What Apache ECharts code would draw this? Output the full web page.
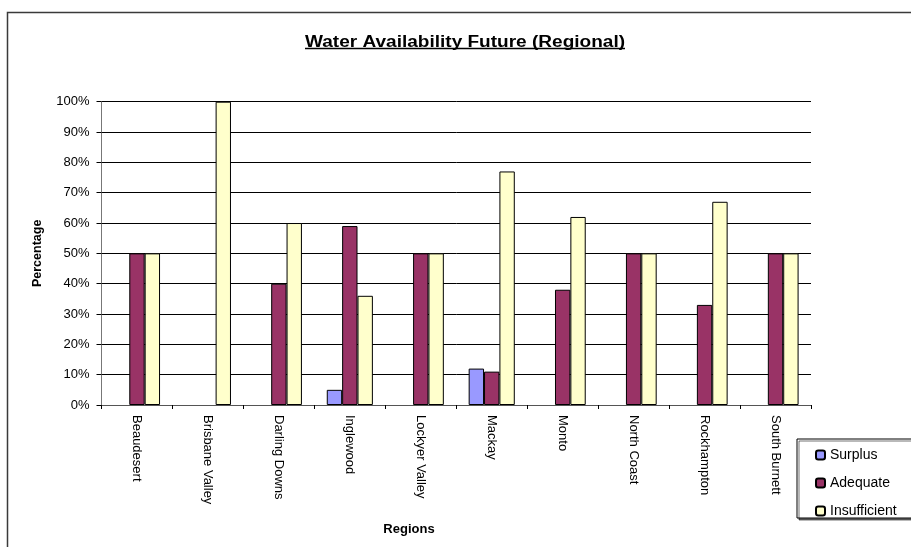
<!DOCTYPE html>
<html>
<head>
<meta charset="utf-8">
<script src="https://cdn.jsdelivr.net/npm/echarts@6/dist/echarts.min.js"></script>
<style>
  html, body { margin: 0; padding: 0; background: #fff; }
  #chart { width: 911px; height: 547px; }
</style>
</head>
<body>
<div id="chart"></div>
<script>
// Regions surveyed
const regions = ['Beaudesert', 'Brisbane Valley', 'Darling Downs', 'Inglewood', 'Lockyer Valley',
                 'Mackay', 'Monto', 'North Coast', 'Rockhampton', 'South Burnett'];

// Share of responses per region (%)
const surplus      = [0, 0, 0, 5, 0, 12, 0, 0, 0, 0];
const adequate     = [50, 0, 40, 59, 50, 11, 38, 50, 33, 50];
const insufficient = [50, 100, 60, 36, 50, 77, 62, 50, 67, 50];

// Y axis ticks (%)
const yTicks = [0, 10, 20, 30, 40, 50, 60, 70, 80, 90, 100];

const FONT = '"Liberation Sans", Arial, sans-serif';
const TITLE = 'Water Availability Future (Regional)';
const TITLE_FONT = 'bold 16px ' + FONT;
const TITLE_WIDTH = 320;   // drawn width of the title, widened slightly
const titleCx = 465;

// Measure the title so it can be stretched to the wanted width
const measureCtx = document.createElement('canvas').getContext('2d');
measureCtx.font = TITLE_FONT;
const rawTitleWidth = measureCtx.measureText(TITLE).width;
const titleScaleX = TITLE_WIDTH / rawTitleWidth;

const chart = echarts.init(document.getElementById('chart'), null, { renderer: 'canvas' });

function barSeries(name, values, color) {
  return {
    name: name,
    type: 'bar',
    data: values.map(v => (v === 0 ? null : v)),
    barGap: '0%',
    barCategoryGap: '35%',
    itemStyle: { color: color, borderColor: '#000', borderWidth: 1 },
    emphasis: { disabled: true },
    animation: false
  };
}

chart.setOption({
  animation: false,
  backgroundColor: '#ffffff',
  grid: { left: 101.5, right: 100, top: 101.7, bottom: 142, containLabel: false },
  xAxis: {
    type: 'category',
    data: regions,
    axisLine: { show: true, lineStyle: { color: '#555', width: 1 } },
    axisTick: { show: true, length: 4, inside: false, lineStyle: { color: '#000' } },
    axisLabel: {
      rotate: -90, interval: 0, margin: 10,
      fontFamily: FONT, fontSize: 13, color: '#000'
    },
    splitLine: { show: false }
  },
  yAxis: {
    type: 'value',
    min: yTicks[0],
    max: yTicks[yTicks.length - 1],
    interval: yTicks[1] - yTicks[0],
    name: 'Percentage',
    nameLocation: 'middle',
    nameGap: 57,
    nameRotate: 90,
    nameTextStyle: { fontFamily: FONT, fontSize: 12.5, fontWeight: 'bold', color: '#000' },
    axisLine: { show: true, lineStyle: { color: '#777', width: 1 } },
    axisTick: { show: true, length: 5, lineStyle: { color: '#000' } },
    axisLabel: {
      formatter: v => v + '%', margin: 12,
      fontFamily: FONT, fontSize: 13, color: '#000'
    },
    splitLine: { show: true, lineStyle: { color: '#000', width: 1 } }
  },
  legend: {
    orient: 'vertical',
    left: 797, top: 439,
    padding: [9, 30, 0, 18],
    itemWidth: 9, itemHeight: 9,
    itemGap: 14,
    backgroundColor: '#fff',
    borderColor: '#000', borderWidth: 1,
    shadowColor: 'rgba(0,0,0,0.55)', shadowOffsetX: 2, shadowOffsetY: 2, shadowBlur: 0,
    textStyle: { fontFamily: FONT, fontSize: 14, color: '#000', lineHeight: 14 },
    data: ['Surplus', 'Adequate', 'Insufficient']
  },
  graphic: [
    {
      type: 'rect', silent: true, z: -1,
      shape: { x: 7.5, y: 12.5, width: 940, height: 560 },
      style: { fill: 'transparent', stroke: '#3a3a3a', lineWidth: 1.5 }
    },
    {
      type: 'text', silent: true,
      x: titleCx, y: 42.5, scaleX: titleScaleX,
      style: { text: TITLE, font: TITLE_FONT, fill: '#000', align: 'center', verticalAlign: 'middle' }
    },
    {
      type: 'line', silent: true,
      shape: { x1: titleCx - TITLE_WIDTH / 2, y1: 48.5, x2: titleCx + TITLE_WIDTH / 2, y2: 48.5 },
      style: { stroke: '#000', lineWidth: 1.5 }
    },
    {
      type: 'text', silent: true,
      x: 409, y: 529,
      style: { text: 'Regions', font: 'bold 13px ' + FONT, fill: '#000', align: 'center', verticalAlign: 'middle' }
    }
  ],
  series: [
    barSeries('Surplus', surplus, '#9999FF'),
    barSeries('Adequate', adequate, '#993366'),
    barSeries('Insufficient', insufficient, '#FFFFCC')
  ]
});
</script>
</body>
</html>
